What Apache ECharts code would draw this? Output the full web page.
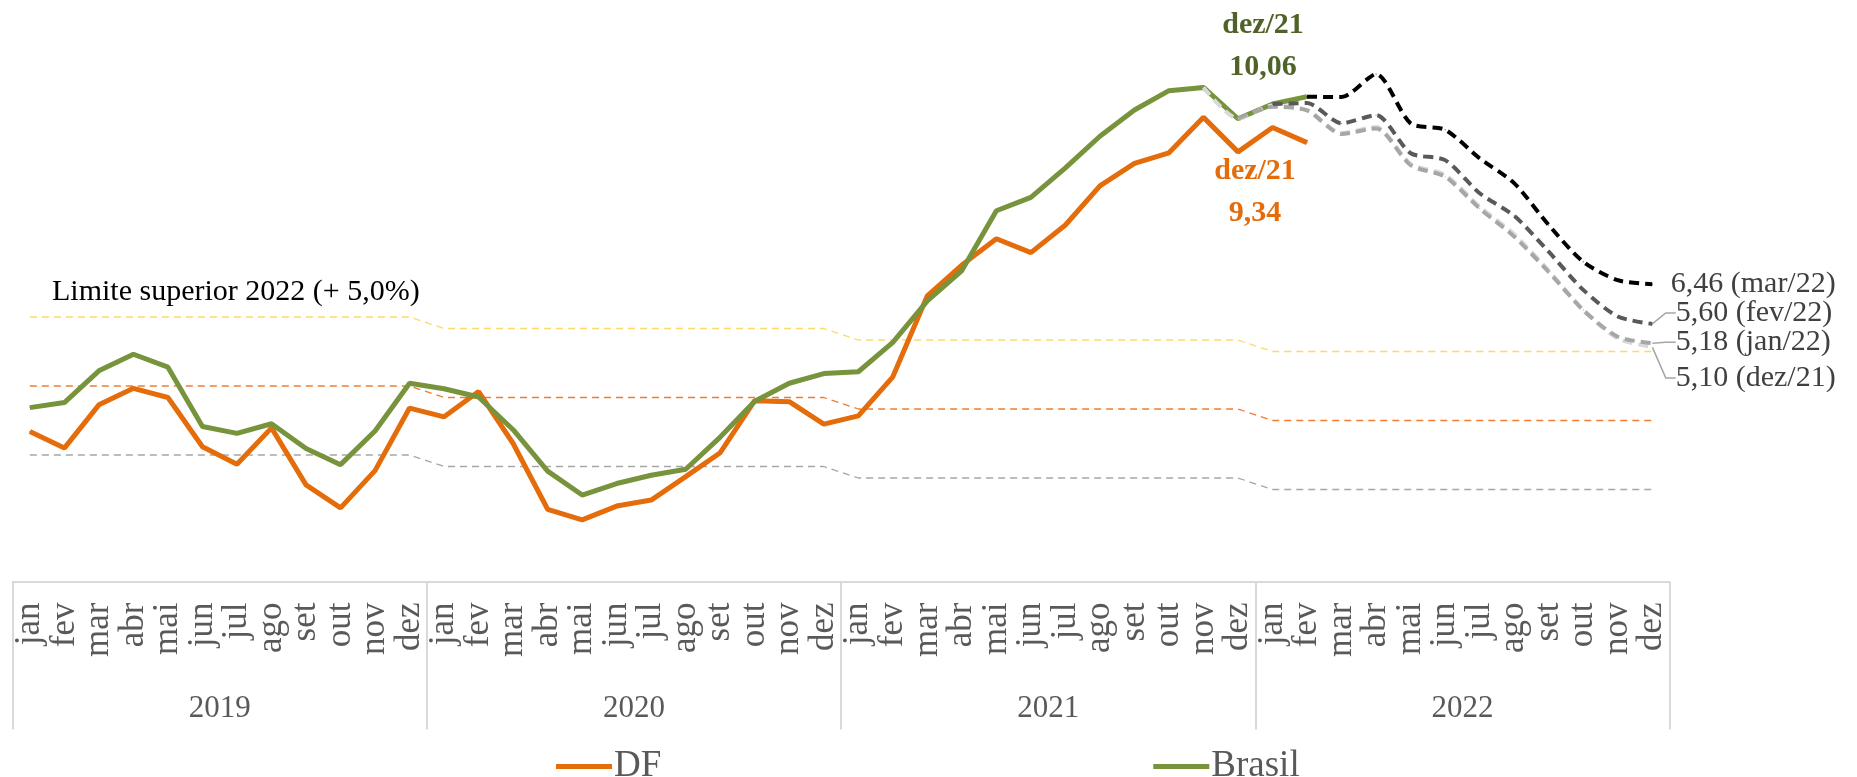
<!DOCTYPE html>
<html>
<head>
<meta charset="utf-8">
<script src="https://cdn.jsdelivr.net/npm/echarts@6/dist/echarts.min.js"></script>
<style>
    html, body { margin: 0; padding: 0; background: #fff; }
    #chart { width: 1857px; height: 777px; }
</style>
</head>
<body>
<div id="chart"></div>
<script>
/* global echarts */

// eixo
var meses = ['jan', 'fev', 'mar', 'abr', 'mai', 'jun', 'jul', 'ago', 'set', 'out', 'nov', 'dez'];
var anos = ['2019', '2020', '2021', '2022'];

// IPCA acumulado 12 meses
var ipcaDF = [
    3.26, 2.90, 3.84, 4.20, 4.00, 2.93, 2.55, 3.34, 2.10, 1.60, 2.41, 3.77,
    3.58, 4.13, 3.00, 1.57, 1.34, 1.64, 1.77, 2.28, 2.80, 3.93, 3.91, 3.42,
    3.60, 4.45, 6.21, 6.88, 7.45, 7.15, 7.75, 8.60, 9.09, 9.32, 10.09, 9.34,
    9.87, 9.54
];
var ipcaBrasil = [
    3.78, 3.89, 4.58, 4.94, 4.66, 3.37, 3.22, 3.43, 2.89, 2.54, 3.27, 4.31,
    4.19, 4.01, 3.30, 2.40, 1.88, 2.13, 2.31, 2.44, 3.14, 3.92, 4.31, 4.52,
    4.56, 5.20, 6.10, 6.76, 8.06, 8.35, 8.99, 9.68, 10.25, 10.67, 10.74, 10.06,
    10.38, 10.54
];

// meta de inflação por ano
var limiteSuperior = [5.75, 5.50, 5.25, 5.00];
var metaCentral = [4.25, 4.00, 3.75, 3.50];
var limiteInferior = [2.75, 2.50, 2.25, 2.00];

// projeções (Focus) - começam em nov/21, dez/21, jan/22 e fev/22
var projDez21 = [10.74, 10.06, 10.35, 10.25, 9.75, 9.88, 9.08, 8.84, 8.15, 7.55, 6.76, 5.90, 5.28, 5.10];
var projJan22 = [10.06, 10.32, 10.24, 9.73, 9.85, 9.05, 8.80, 8.11, 7.50, 6.73, 5.90, 5.32, 5.18];
var projFev22 = [10.38, 10.40, 9.96, 10.14, 9.31, 9.16, 8.44, 7.95, 7.17, 6.34, 5.76, 5.60];
var projMar22 = [10.54, 10.53, 11.03, 9.96, 9.82, 9.20, 8.66, 7.75, 6.95, 6.55, 6.46];

var fonte = 'Liberation Serif';
var categorias = [];
anos.forEach(function (a) {
    meses.forEach(function (m) {
        categorias.push(m + '/' + a);
    });
});
var total = categorias.length;

function porMes(valoresAno) {
    var out = [];
    valoresAno.forEach(function (v) {
        meses.forEach(function () { out.push(v); });
    });
    return out;
}

function projecao(valores, rotulo) {
    var out = [];
    var inicio = total - valores.length;
    for (var i = 0; i < total; i++) {
        out.push(i < inicio ? null : valores[i - inicio]);
    }
    var ultimo = out[total - 1];
    out[total - 1] = {
        value: ultimo,
        label: {
            show: true,
            formatter: ultimo.toFixed(2).replace('.', ',') + ' (' + rotulo + ')'
        }
    };
    return out;
}

function faixa(nome, dados, cor) {
    return {
        name: nome,
        type: 'line',
        data: porMes(dados),
        showSymbol: false,
        silent: true,
        lineStyle: { color: cor, width: 1.3, type: [7, 5] },
        z: 1
    };
}

function serieProj(nome, dados, rotulo, cor, dy) {
    return {
        name: nome,
        type: 'line',
        data: projecao(dados, rotulo),
        showSymbol: true,
        symbol: 'circle',
        symbolSize: 1,
        smooth: 0.25,
        itemStyle: { color: cor },
        lineStyle: { color: cor, width: 4, type: [10, 6] },
        label: {
            position: 'right',
            distance: 18,
            fontFamily: fonte,
            fontSize: 30,
            color: '#404040'
        },
        labelLayout: dy ? { dy: dy, dx: 5 } : null,
        labelLine: { show: !!dy, length2: 10, lineStyle: { color: '#A6A6A6', width: 1.5 } },
        z: 5
    };
}

var dadosBrasil = ipcaBrasil.slice();
dadosBrasil[35] = {
    value: ipcaBrasil[35],
    label: {
        show: true,
        position: 'top',
        distance: 30,
        offset: [25, 0],
        formatter: '{a|dez/21}\n{a|10,06}',
        rich: {
            a: { fontFamily: fonte, fontSize: 30, fontWeight: 'bold', color: '#4F6228', lineHeight: 42 }
        }
    }
};
var dadosDF = ipcaDF.slice();
dadosDF[35] = {
    value: ipcaDF[35],
    label: {
        show: true,
        position: 'bottom',
        distance: -2,
        offset: [17, 0],
        formatter: '{a|dez/21}\n{a|9,34}',
        rich: {
            a: { fontFamily: fonte, fontSize: 30, fontWeight: 'bold', color: '#E46C0A', lineHeight: 42 }
        }
    }
};

var chart = echarts.init(document.getElementById('chart'));
chart.setOption({
    animation: false,
    grid: { left: 12.6, right: 187.5, top: 29.5, bottom: 195.5 },
    legend: {
        data: ['DF', 'Brasil'],
        left: 551,
        top: 743,
        icon: 'rect',
        itemWidth: 56,
        itemHeight: 5,
        itemGap: 492,
        textStyle: { fontFamily: fonte, fontSize: 37, color: '#595959', padding: [0, 0, 0, -3] }
    },
    graphic: [{
        type: 'text',
        left: 52,
        top: 277,
        style: { text: 'Limite superior 2022 (+ 5,0%)', font: '30px "Liberation Serif"', fill: '#000' }
    }],
    xAxis: [
        {
            type: 'category',
            data: categorias,
            boundaryGap: true,
            axisLine: { show: true, lineStyle: { color: '#D9D9D9', width: 2 } },
            axisTick: { show: false },
            axisLabel: {
                interval: 0,
                rotate: 90,
                margin: 21,
                fontFamily: fonte,
                fontSize: 35,
                color: '#595959',
                formatter: function (v) { return v.split('/')[0]; }
            }
        },
        {
            type: 'category',
            data: anos,
            position: 'bottom',
            offset: 0,
            boundaryGap: true,
            axisLine: { show: false },
            axisTick: { show: true, interval: 0, length: 148, lineStyle: { color: '#D9D9D9', width: 2 } },
            axisLabel: { interval: 0, margin: 112, fontFamily: fonte, fontSize: 31, color: '#595959' }
        }
    ],
    yAxis: {
        type: 'value',
        min: 0,
        max: 12,
        show: false
    },
    series: [
        faixa('Limite superior', limiteSuperior, '#FFD966'),
        faixa('Meta', metaCentral, '#ED7D31'),
        faixa('Limite inferior', limiteInferior, '#A6A6A6'),
        {
            name: 'DF',
            type: 'line',
            data: dadosDF,
            showSymbol: true,
            symbol: 'circle',
            symbolSize: 1,
            lineStyle: { color: '#E46C0A', width: 5 },
            itemStyle: { color: '#E46C0A' },
            z: 3
        },
        {
            name: 'Brasil',
            type: 'line',
            data: dadosBrasil,
            showSymbol: true,
            symbol: 'circle',
            symbolSize: 1,
            lineStyle: { color: '#77933C', width: 5 },
            itemStyle: { color: '#77933C' },
            z: 3
        },
        serieProj('Focus dez/21', projDez21, 'dez/21', '#D9D9D9', 31),
        serieProj('Focus jan/22', projJan22, 'jan/22', '#A6A6A6', -1),
        serieProj('Focus fev/22', projFev22, 'fev/22', '#595959', -11),
        serieProj('Focus mar/22', projMar22, 'mar/22', '#000000', 0)
    ]
});
</script>
</body>
</html>
